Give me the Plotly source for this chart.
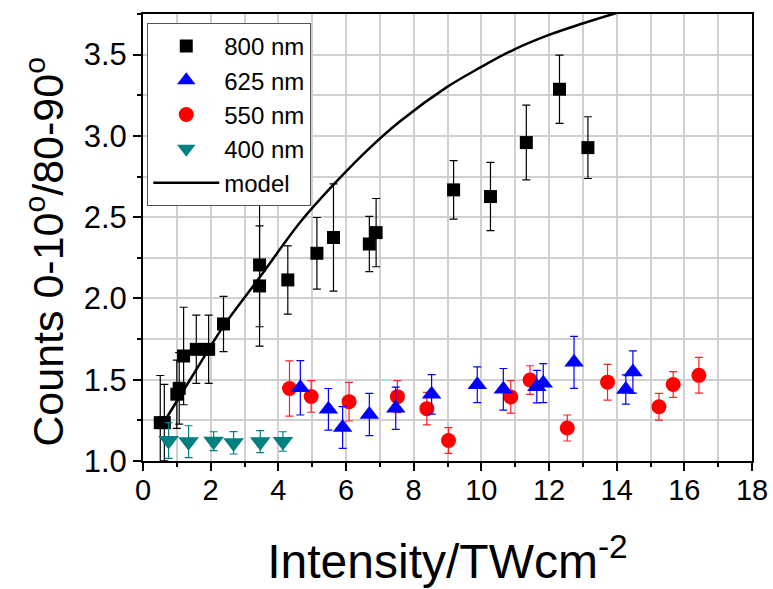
import plotly.graph_objects as go

# 800 nm
x800 = [0.51, 0.63, 1.00, 1.07, 1.20, 1.575, 1.94, 2.38, 3.445, 3.445, 4.28, 5.14, 5.63, 6.69, 6.89, 9.18, 10.27, 11.33, 12.31, 13.15]
y800 = [1.236, 1.236, 1.411, 1.447, 1.646, 1.687, 1.687, 1.843, 2.206, 2.077, 2.114, 2.278, 2.375, 2.335, 2.405, 2.668, 2.627, 2.959, 3.287, 2.928]
e800 = [0.29, 0.235, 0.21, 0.22, 0.30, 0.21, 0.21, 0.17, 0.38, 0.37, 0.21, 0.22, 0.33, 0.17, 0.21, 0.18, 0.21, 0.23, 0.21, 0.19]

# 625 nm
x625 = [4.65, 5.48, 5.90, 6.69, 7.47, 8.53, 9.88, 10.65, 11.64, 11.83, 12.74, 14.27, 14.48]
y625 = [1.45, 1.318, 1.206, 1.286, 1.324, 1.41, 1.469, 1.441, 1.457, 1.479, 1.607, 1.44, 1.548]
e625 = [0.167, 0.128, 0.128, 0.13, 0.13, 0.122, 0.11, 0.128, 0.10, 0.12, 0.16, 0.09, 0.13]

# 550 nm
x550 = [4.33, 4.97, 6.09, 7.52, 8.39, 9.03, 10.87, 11.44, 12.54, 13.73, 15.25, 15.67, 16.43]
y550 = [1.446, 1.397, 1.365, 1.396, 1.322, 1.126, 1.394, 1.498, 1.203, 1.485, 1.334, 1.471, 1.527]
e550 = [0.17, 0.097, 0.119, 0.098, 0.10, 0.079, 0.10, 0.088, 0.08, 0.11, 0.082, 0.079, 0.11]

# 400 nm
x400 = [0.756, 1.347, 2.086, 2.677, 3.465, 4.136]
y400 = [1.126, 1.119, 1.122, 1.112, 1.119, 1.12]
e400 = [0.11, 0.098, 0.058, 0.069, 0.068, 0.06]

# model curve
xm = [0.62, 1.45, 2.38, 3.45, 4.65, 5.63, 6.62, 7.60, 8.98, 9.96, 10.95, 11.98, 12.97, 13.9, 14.6]
ym = [1.24, 1.52, 1.83, 2.13, 2.47, 2.70, 2.91, 3.09, 3.30, 3.42, 3.53, 3.62, 3.69, 3.75, 3.79]

x_title = "Intensity/TWcm<sup>-2</sup>"
y_title = "Counts 0-10<sup>o</sup>/80-90<sup>o</sup>"

FONT = "Liberation Sans, Arial, sans-serif"

fig = go.Figure()

fig.add_trace(go.Scatter(
    x=x800, y=y800, mode="markers", name="800 nm", legendrank=1,
    marker=dict(symbol="square", size=13, color="black"),
    error_y=dict(type="data", array=e800, color="black", thickness=1.2, width=4),
))
fig.add_trace(go.Scatter(
    x=x550, y=y550, mode="markers", name="550 nm", legendrank=3,
    marker=dict(symbol="circle", size=15, color="#ff0000"),
    error_y=dict(type="data", array=e550, color="#ff2020", thickness=1.2, width=4),
))
fig.add_trace(go.Scatter(
    x=x625, y=y625, mode="markers", name="625 nm", legendrank=2,
    marker=dict(symbol="triangle-up", size=17, color="#0000ff"),
    error_y=dict(type="data", array=e625, color="#0000ff", thickness=1.2, width=4),
))
fig.add_trace(go.Scatter(
    x=x400, y=y400, mode="markers", name="400 nm", legendrank=4,
    marker=dict(symbol="triangle-down", size=18, color="#008080"),
    error_y=dict(type="data", array=e400, color="#008080", thickness=1.2, width=4),
))
fig.add_trace(go.Scatter(
    x=xm, y=ym, mode="lines", name="model", legendrank=5,
    line=dict(color="black", width=2.5, shape="spline", smoothing=1.0),
))

fig.update_layout(
    width=773, height=589,
    margin=dict(l=143, r=21, t=14, b=128),
    paper_bgcolor="white", plot_bgcolor="white",
    font=dict(family=FONT, color="black"),
    showlegend=True,
    legend=dict(
        x=0.007, y=0.980, xanchor="left", yanchor="top",
        bgcolor="white", bordercolor="#555555", borderwidth=1,
        font=dict(size=24, family=FONT),
        itemwidth=66, tracegroupgap=0,
    ),
    xaxis=dict(
        range=[0, 18], dtick=2, tick0=0, automargin=False,
        showline=True, linecolor="black", linewidth=2, mirror=True,
        ticks="outside", ticklen=8, tickwidth=1.5, tickcolor="black",
        ticklabelstandoff=-6,
        showgrid=True, gridcolor="#d0d0d0", gridwidth=1.5,
        minor=dict(dtick=1, showgrid=True, gridcolor="#d0d0d0", gridwidth=1.5,
                   ticks="outside", ticklen=4, tickcolor="black"),
        tickfont=dict(size=29, family=FONT),
        title=dict(text=x_title, font=dict(size=48, family=FONT), standoff=40),
        zeroline=False,
    ),
    yaxis=dict(
        range=[1.0, 3.75], dtick=0.5, tick0=1.0, tickformat=".1f", automargin=False,
        showline=True, linecolor="black", linewidth=2, mirror=True,
        ticks="outside", ticklen=8, tickwidth=1.5, tickcolor="black",
        showgrid=True, gridcolor="#d0d0d0", gridwidth=1.5,
        minor=dict(dtick=0.25, showgrid=True, gridcolor="#d0d0d0", gridwidth=1.5,
                   ticks="outside", ticklen=4, tickcolor="black"),
        tickfont=dict(size=31, family=FONT),
        zeroline=False,
    ),
    annotations=[dict(
        text=y_title, textangle=-90, showarrow=False,
        xref="paper", yref="paper", x=-0.161, y=0.468,
        xanchor="center", yanchor="middle",
        font=dict(size=43, family=FONT, color="black"),
    )],
)

fig.write_html("out.html")
